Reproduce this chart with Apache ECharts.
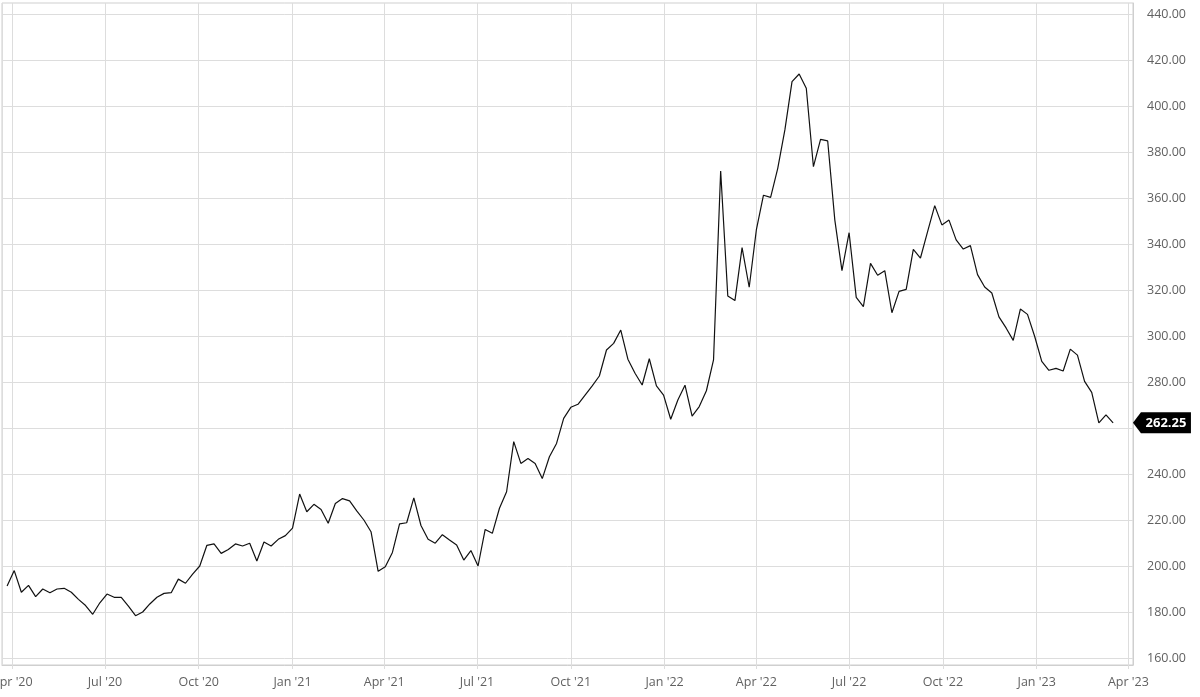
<!DOCTYPE html>
<html>
<head>
<meta charset="utf-8">
<script src="https://cdn.jsdelivr.net/npm/echarts@6/dist/echarts.min.js"></script>
<style>
html,body{margin:0;padding:0;background:#fff;}
#c{width:1200px;height:697px;}
</style>
</head>
<body>
<div id="c"></div>
<script>
// first weekly observation (local date) and weekly closing prices
const firstWeek = [2020, 2, 27];
const prices = [
  191.3, 198.0, 188.6, 191.6, 186.7, 190.0, 188.4, 190.0, 190.3, 188.6,
  185.5, 182.8, 179.0, 184.0, 187.8, 186.4, 186.4, 182.6, 178.4, 180.0,
  183.5, 186.4, 188.1, 188.4, 194.3, 192.5, 196.5, 200.0, 209.0, 209.6,
  205.5, 207.2, 209.6, 208.7, 209.9, 202.2, 210.4, 208.7, 211.6, 213.2,
  216.5, 231.3, 223.6, 226.8, 224.6, 218.6, 227.2, 229.3, 228.3, 224.0,
  220.0, 214.9, 197.7, 199.7, 205.9, 218.3, 218.8, 229.6, 217.6, 211.6,
  209.9, 213.6, 211.3, 209.1, 202.6, 206.7, 200.0, 215.9, 214.2, 225.1,
  232.3, 254.1, 244.6, 246.7, 244.6, 238.0, 247.5, 253.3, 264.2, 269.0,
  270.3, 274.3, 278.3, 282.6, 293.9, 296.8, 302.6, 289.9, 283.8, 278.7,
  290.1, 278.3, 274.3, 263.8, 272.2, 278.6, 265.2, 269.3, 276.2, 289.6,
  371.7, 317.4, 315.4, 338.4, 321.2, 346.1, 361.2, 360.3, 372.9, 389.6,
  410.6, 413.9, 407.7, 373.6, 385.5, 384.8, 350.4, 328.4, 344.9, 316.8,
  312.8, 331.6, 326.4, 328.4, 310.1, 319.4, 320.3, 337.7, 333.9, 345.4,
  356.7, 348.3, 350.4, 341.8, 337.8, 339.3, 326.7, 321.3, 318.7, 308.3,
  303.5, 298.1, 311.7, 309.4, 299.9, 289.0, 285.1, 285.9, 284.8, 294.3,
  291.7, 280.3, 275.5, 262.2, 265.7, 262.25
];
const lastPrice = 262.25;
const monthNames = ['Jan','Feb','Mar','Apr','May','Jun','Jul','Aug','Sep','Oct','Nov','Dec'];
const yMin = 160, yMax = 440, yStep = 20;
const xStart = [2020, 2, 22];
const xEnd = [2023, 3, 5, 12];

const dates = prices.map((_, i) => new Date(firstWeek[0], firstWeek[1], firstWeek[2] + 7 * i).getTime());
const seriesData = prices.map((v, i) => [dates[i], v]);
const xMin = new Date(...xStart).getTime();
const xMax = new Date(...xEnd).getTime();

const FONT = 'Open Sans';
const labelColor = '#616161';
const gridColor = '#dddddd';
const frameColor = '#cfcfcf';

const chart = echarts.init(document.getElementById('c'), null, {renderer: 'canvas'});
chart.setOption({
  animation: false,
  backgroundColor: '#ffffff',
  grid: [
    {left: 2, right: 67, top: 14, bottom: 39, outerBoundsMode: 'none', containLabel: false},
    {left: 2, right: 67, top: 3, bottom: 32, outerBoundsMode: 'none', containLabel: false,
     show: true, borderColor: frameColor, borderWidth: 1, backgroundColor: 'transparent'}
  ],
  xAxis: [
    {type: 'time', gridIndex: 0, min: xMin, max: xMax, show: false},
    {type: 'time', gridIndex: 1, min: xMin, max: xMax, splitNumber: 12,
     axisLine: {show: true, lineStyle: {color: frameColor, width: 1}},
     axisTick: {show: true, length: 4, lineStyle: {color: gridColor}},
     splitLine: {show: true, lineStyle: {color: gridColor, width: 1}},
     minorTick: {show: false},
     axisLabel: {
       show: true, color: labelColor, fontFamily: FONT, fontSize: 12.5, margin: 11,
       showMinLabel: false, showMaxLabel: false, hideOverlap: false,
       formatter: function (v) {
         const d = new Date(v);
         return monthNames[d.getMonth()] + " '" + String(d.getFullYear()).slice(2);
       }
     }
    }
  ],
  yAxis: [
    {type: 'value', gridIndex: 0, position: 'right', min: yMin, max: yMax, interval: yStep,
     axisLine: {show: false}, axisTick: {show: false},
     splitLine: {show: true, lineStyle: {color: gridColor, width: 1}},
     axisLabel: {color: labelColor, fontFamily: FONT, fontSize: 12.5, margin: 14,
                 formatter: v => v.toFixed(2)}
    },
    {type: 'value', gridIndex: 1, position: 'right', min: 0, max: 1,
     axisLine: {show: true, lineStyle: {color: frameColor}}, axisTick: {show: false},
     axisLabel: {show: false}, splitLine: {show: false}
    }
  ],
  series: [{
    type: 'line',
    xAxisIndex: 0, yAxisIndex: 0,
    data: seriesData,
    showSymbol: false,
    symbol: 'none',
    lineStyle: {color: '#111111', width: 1.2},
    z: 5,
    markPoint: {
      silent: true,
      symbol: 'path://M0,10.5 L8,0 L58,0 L58,21 L8,21 Z',
      symbolSize: [58, 21],
      symbolKeepAspect: false,
      symbolOffset: [29, 0],
      itemStyle: {color: '#000000'},
      label: {show: true, formatter: lastPrice.toFixed(2), color: '#ffffff',
              fontFamily: FONT, fontWeight: 'bold', fontSize: 13, offset: [4, 0]},
      data: [{coord: [xMax - 3600000, lastPrice]}]
    }
  }]
});
</script>
</body>
</html>
